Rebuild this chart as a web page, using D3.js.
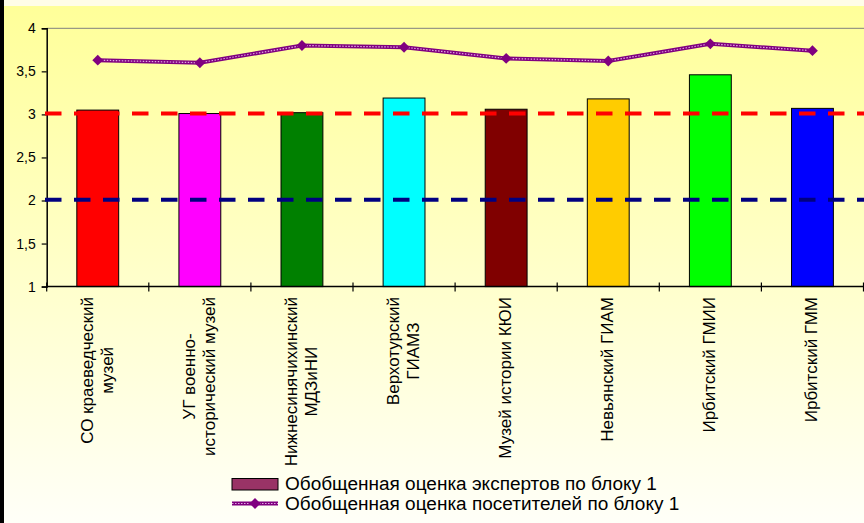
<!DOCTYPE html>
<html>
<head>
<meta charset="utf-8">
<script src="https://cdn.jsdelivr.net/npm/d3@7"></script>
<style>
  html, body { margin: 0; padding: 0; background: #fffde8; }
  svg { display: block; font-family: "Liberation Sans", Arial, sans-serif; }
</style>
</head>
<body>
<div id="chart"></div>
<script>
const categories = [
  "СО краеведческий\nмузей",
  "УГ военно-\nисторический музей",
  "Нижнесинячихинский\nМДЗиНИ",
  "Верхотурский\nГИАМЗ",
  "Музей истории КЮИ",
  "Невьянский ГИАМ",
  "Ирбитский ГМИИ",
  "Ирбитский ГММ"
];
const expertScores = [3.05, 3.01, 3.02, 3.19, 3.06, 3.18, 3.46, 3.07];
const visitorScores = [3.63, 3.60, 3.80, 3.78, 3.65, 3.62, 3.82, 3.74];
const yTicks = [1, 1.5, 2, 2.5, 3, 3.5, 4];
const thresholds = [3.01, 2.01];
const thresholdColors = ["#ff0000", "#000080"];
const barColors = ["#ff0000", "#ff00ff", "#008000", "#00ffff", "#800000", "#ffcc00", "#00ff00", "#0000ff"];
const legendLabels = [
  "Обобщенная оценка экспертов по блоку 1",
  "Обобщенная оценка посетителей по блоку 1"
];

const width = 864, height = 523;
const plotLeft = 46.7, plotRight = 863.5, plotTop = 28.3, plotBottom = 286.6;

const svg = d3.select("#chart").append("svg")
  .attr("width", width)
  .attr("height", height);

// background: cream strip, black edge, yellow gradient
const defs = svg.append("defs");
const grad = defs.append("linearGradient")
  .attr("id", "bg").attr("x1", 0).attr("y1", 0).attr("x2", 0).attr("y2", 1);
grad.append("stop").attr("offset", "0%").attr("stop-color", "#ffff99");
grad.append("stop").attr("offset", "100%").attr("stop-color", "#fffff8");

svg.append("rect").attr("width", width).attr("height", height).attr("fill", "#fffde8");
svg.append("rect").attr("x", 4).attr("y", 6).attr("width", width - 4).attr("height", height - 6)
  .attr("fill", "url(#bg)");
svg.append("rect").attr("x", 0).attr("y", 0).attr("width", 4).attr("height", height).attr("fill", "#000");

const x = d3.scaleBand()
  .domain(d3.range(categories.length))
  .range([plotLeft, plotRight])
  .paddingInner(0.59)
  .paddingOuter(0.295);

const y = d3.scaleLinear().domain([1, 4]).range([plotBottom, plotTop]);

// top gridline
svg.append("line")
  .attr("x1", plotLeft).attr("x2", width)
  .attr("y1", y(4)).attr("y2", y(4))
  .attr("stroke", "#808080").attr("stroke-width", 1);

// bars
svg.append("g").selectAll("rect")
  .data(expertScores)
  .join("rect")
  .attr("x", (d, i) => x(i))
  .attr("y", d => y(d))
  .attr("width", x.bandwidth())
  .attr("height", d => y(1) - y(d))
  .attr("fill", (d, i) => barColors[i])
  .attr("stroke", "#000")
  .attr("stroke-width", 1);

// y axis
const yAxis = svg.append("g")
  .attr("transform", `translate(${plotLeft},0)`)
  .call(d3.axisLeft(y).tickValues(yTicks).tickSize(5).tickPadding(6)
    .tickFormat(d => String(d).replace(".", ",")));
yAxis.select(".domain").attr("stroke", "#000").attr("stroke-width", 1.5);
yAxis.selectAll(".tick line").attr("stroke", "#000").attr("stroke-width", 1.2);
yAxis.selectAll(".tick text").attr("font-size", 14).attr("fill", "#000")
  .attr("font-family", "Liberation Sans, Arial, sans-serif");

// x axis line and cross ticks at category boundaries
svg.append("line")
  .attr("x1", plotLeft).attr("x2", width)
  .attr("y1", plotBottom).attr("y2", plotBottom)
  .attr("stroke", "#000").attr("stroke-width", 1.5);
const step = x.step();
svg.append("g").selectAll("line")
  .data(d3.range(categories.length + 1))
  .join("line")
  .attr("x1", i => plotLeft + i * step).attr("x2", i => plotLeft + i * step)
  .attr("y1", plotBottom - 4).attr("y2", plotBottom + 5)
  .attr("stroke", "#000").attr("stroke-width", 1.2);

// category labels, rotated
const labelTop = 297, lineGap = 20.5;
const labels = svg.append("g").attr("font-size", 17).attr("fill", "#000");
categories.forEach((c, i) => {
  const lines = c.split("\n");
  const cx = x(i) + x.bandwidth() / 2;
  const g = labels.append("g");
  const texts = lines.map(ln => g.append("text").attr("text-anchor", "middle").text(ln));
  const maxLen = d3.max(texts, t => t.node().getComputedTextLength());
  const cy = labelTop + maxLen / 2;
  texts.forEach((t, j) => {
    const bx = cx + 5 + (j - (lines.length - 1) / 2) * lineGap;
    t.attr("transform", `translate(${bx},${cy}) rotate(-90)`);
  });
});

// threshold dashed lines
svg.append("g").selectAll("line")
  .data(thresholds)
  .join("line")
  .attr("x1", 45).attr("x2", width)
  .attr("y1", d => y(d)).attr("y2", d => y(d))
  .attr("stroke", (d, i) => thresholdColors[i])
  .attr("stroke-width", 4)
  .attr("stroke-dasharray", "16.5 12.5");

// visitor line
const lineGen = d3.line().x((d, i) => x(i) + x.bandwidth() / 2).y(d => y(d));
svg.append("path").datum(visitorScores)
  .attr("d", lineGen).attr("fill", "none")
  .attr("stroke", "#800080").attr("stroke-width", 4);
svg.append("path").datum(visitorScores)
  .attr("d", lineGen).attr("fill", "none")
  .attr("stroke", "#e0a8e0").attr("stroke-width", 1.2)
  .attr("stroke-dasharray", "1.5 1.5");

const diamond = d3.symbol().type(d3.symbolDiamond2).size(75);
svg.append("g").selectAll("path")
  .data(visitorScores)
  .join("path")
  .attr("d", diamond)
  .attr("transform", (d, i) => `translate(${x(i) + x.bandwidth() / 2},${y(d)})`)
  .attr("fill", "#800080");

// legend
const legend = svg.append("g").attr("font-size", 18).attr("fill", "#000");
legend.append("rect")
  .attr("x", 232).attr("y", 478.5).attr("width", 46).attr("height", 11.5)
  .attr("fill", "#993366").attr("stroke", "#000").attr("stroke-width", 1);
legend.append("line")
  .attr("x1", 232).attr("x2", 278).attr("y1", 503.5).attr("y2", 503.5)
  .attr("stroke", "#800080").attr("stroke-width", 4);
legend.append("line")
  .attr("x1", 232).attr("x2", 278).attr("y1", 503.5).attr("y2", 503.5)
  .attr("stroke", "#e0a8e0").attr("stroke-width", 1.2).attr("stroke-dasharray", "1.5 1.5");
legend.append("path").attr("d", diamond)
  .attr("transform", "translate(255,503.5)").attr("fill", "#800080");
const legendTexts = legend.selectAll("text")
  .data(legendLabels)
  .join("text")
  .attr("x", 285)
  .attr("y", (d, i) => 490 + i * 20)
  .text(d => d);
// fit the first legend entry to ~372px wide, as in the original
const w0 = legendTexts.node().getComputedTextLength();
legend.attr("font-size", 18 * 372 / w0);
</script>
</body>
</html>
